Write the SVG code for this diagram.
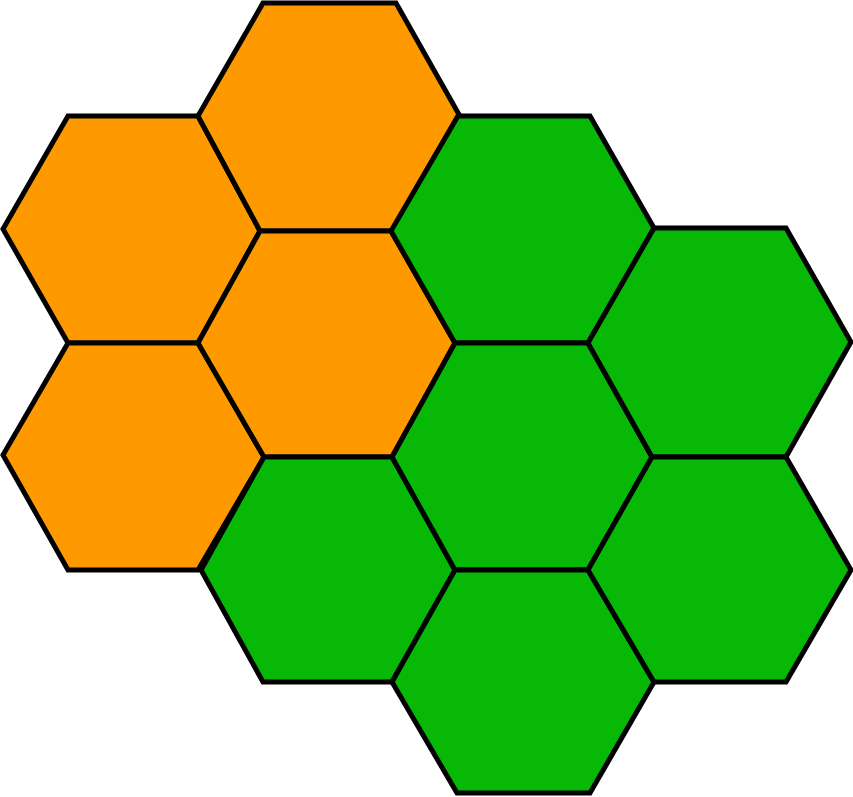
<svg xmlns="http://www.w3.org/2000/svg" width="853" height="797" viewBox="0 0 853 797">
<defs>
<style>
.hex{stroke:#000;stroke-width:5;stroke-linejoin:miter}
.o{fill:#FF9900}
.g{fill:#07B807}
</style>
</defs>
<rect width="853" height="797" fill="#fff"/>
<g id="hex-c0r0"><polygon class="hex o" points="68,116 198,116 260,231 198,343 68,343 3,229"/></g>
<g id="hex-c0r1"><polygon class="hex o" points="68,343 198,343 264,457 198,570 68,570 3,455"/></g>
<g id="hex-c1r0"><polygon class="hex o" points="263,3 396,3 459,114.5 392,231 260,231 198,116"/></g>
<g id="hex-c1r1"><polygon class="hex o" points="260,231 391,231 455,343 392,457 264,457 198,343"/></g>
<g id="hex-c1r2"><polygon class="hex g" points="264,457 392,457 455,570 392,682 263,682 201,570"/></g>
<g id="hex-c2r0"><polygon class="hex g" points="458,116 590,116 654,228 588,343 455,343 391,231"/></g>
<g id="hex-c2r1"><polygon class="hex g" points="455,343 588,343 652,457 588,570 455,570 392,457"/></g>
<g id="hex-c2r2"><polygon class="hex g" points="455,570 588,570 654,682 590,793 457,793 392,682"/></g>
<g id="hex-c3r0"><polygon class="hex g" points="654,228 786,228 851,342 786,457 652,457 588,343"/></g>
<g id="hex-c3r1"><polygon class="hex g" points="652,457 786,457 851,570 786,682 654,682 588,570"/></g>
<g id="connectors"></g>
</svg>
